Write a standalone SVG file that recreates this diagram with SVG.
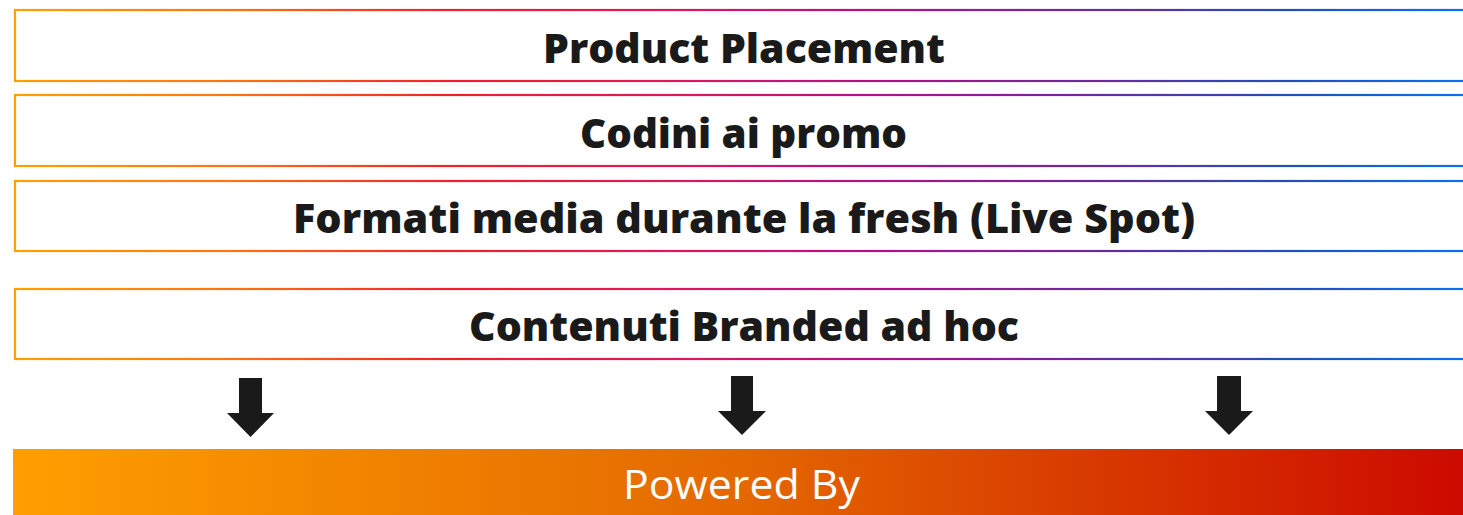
<svg xmlns="http://www.w3.org/2000/svg" width="1463" height="515" viewBox="0 0 1463 515">
  <defs>
    <linearGradient id="border" gradientUnits="userSpaceOnUse" x1="15" y1="0" x2="1463" y2="0">
      <stop offset="0" stop-color="#FFA000"/>
      <stop offset="0.15" stop-color="#FF7410"/>
      <stop offset="0.3" stop-color="#F0202A"/>
      <stop offset="0.45" stop-color="#E0185A"/>
      <stop offset="0.6" stop-color="#B0108A"/>
      <stop offset="0.75" stop-color="#6A2A9E"/>
      <stop offset="0.88" stop-color="#2050B8"/>
      <stop offset="1" stop-color="#0A70F5"/>
    </linearGradient>
    <linearGradient id="bar" gradientUnits="userSpaceOnUse" x1="13" y1="0" x2="1463" y2="0">
      <stop offset="0" stop-color="#FF9E00"/>
      <stop offset="0.5" stop-color="#E46800"/>
      <stop offset="1" stop-color="#CC0A00"/>
    </linearGradient>
    <style>
      .box { fill: #ffffff; stroke: url(#border); stroke-width: 2.2; }
      .lbl { font-family: "Open Sans", "Liberation Sans", sans-serif; font-weight: 800; font-size: 41px; fill: #1a1a1a; text-anchor: middle; }
      .pw { font-family: "Open Sans", "Liberation Sans", sans-serif; font-weight: 500; font-size: 40px; fill: #ffffff; text-anchor: middle; }
      .arrow { fill: #1a1a1a; }
    </style>
  </defs>

  <g id="node-product-placement">
    <rect class="box" x="15" y="10" width="1460" height="71"/>
    <text class="lbl" x="744" y="63" textLength="402" lengthAdjust="spacingAndGlyphs">Product Placement</text>
  </g>
  <g id="node-codini">
    <rect class="box" x="15" y="95" width="1460" height="71"/>
    <text class="lbl" x="743.5" y="148" textLength="327" lengthAdjust="spacingAndGlyphs">Codini ai promo</text>
  </g>
  <g id="node-formati">
    <rect class="box" x="15" y="181" width="1460" height="70"/>
    <text class="lbl" x="744" y="233" textLength="902" lengthAdjust="spacingAndGlyphs">Formati media durante la fresh (Live Spot)</text>
  </g>
  <g id="node-contenuti">
    <rect class="box" x="15" y="289" width="1460" height="70"/>
    <text class="lbl" x="744" y="341" textLength="550" lengthAdjust="spacingAndGlyphs">Contenuti Branded ad hoc</text>
  </g>

  <g id="connectors">
    <polygon class="arrow" points="239,378 262,378 262,413 274,413 250.5,437 227,413 239,413"/>
    <polygon class="arrow" points="731,376 753,376 753,411 766,411 742,435 718,411 731,411"/>
    <polygon class="arrow" points="1217,376 1241,376 1241,411 1253,411 1229,435 1205,411 1217,411"/>
  </g>

  <g id="node-powered-by">
    <rect x="13" y="449" width="1450" height="66" fill="url(#bar)"/>
    <text class="pw" x="741.5" y="499" textLength="237" lengthAdjust="spacingAndGlyphs">Powered By</text>
  </g>
</svg>
